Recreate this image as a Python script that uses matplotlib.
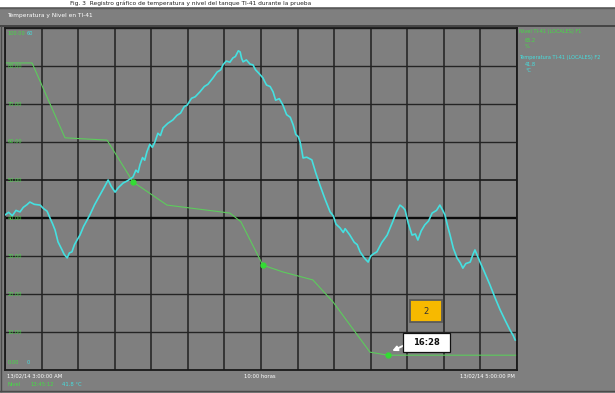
import matplotlib
matplotlib.use("Agg")
import matplotlib.pyplot as plt
from matplotlib.patches import Rectangle

# ---------------- data ----------------
temp_hours = [3.00, 3.10, 3.20, 3.30, 3.41, 3.50, 3.60, 3.68, 3.80, 3.96, 4.05, 4.15, 4.23, 4.30, 4.37,
              4.45, 4.55, 4.62, 4.70, 4.76, 4.83, 4.90, 4.97, 5.05, 5.15, 5.25, 5.32, 5.45, 5.60, 5.72,
              5.82, 5.90, 6.01, 6.10, 6.23, 6.35, 6.50, 6.58, 6.64, 6.69, 6.76, 6.82, 6.88, 6.96, 7.03,
              7.10, 7.18, 7.25, 7.32, 7.45, 7.59, 7.70, 7.80, 7.90, 7.98, 8.10, 8.20, 8.33, 8.45, 8.55,
              8.69, 8.80, 8.90, 8.96, 9.05, 9.15, 9.23, 9.30, 9.38, 9.43, 9.47, 9.51, 9.60, 9.70, 9.78,
              9.85, 9.93, 10.05, 10.15, 10.25, 10.33, 10.40, 10.50, 10.60, 10.70, 10.80, 10.88, 10.95,
              11.02, 11.07, 11.12, 11.15, 11.25, 11.39, 11.50, 11.61, 11.75, 11.89, 11.98, 12.05, 12.16,
              12.25, 12.30, 12.43, 12.55, 12.63, 12.71, 12.80, 12.87, 12.93, 13.00, 13.08, 13.17, 13.30,
              13.45, 13.60, 13.70, 13.80, 13.88, 13.94, 14.03, 14.13, 14.22, 14.29, 14.38, 14.48, 14.58,
              14.68, 14.80, 14.89, 14.96, 15.03, 15.10, 15.17, 15.26, 15.36, 15.45, 15.52, 15.60, 15.72,
              15.80, 15.85, 15.92, 15.99, 16.10, 16.26, 16.40, 16.54, 16.68, 16.81, 16.90, 16.95]
temp_values = [40.8, 41.5, 40.6, 42.0, 41.6, 42.8, 43.5, 44.2, 43.6, 43.4, 42.5, 41.8, 40.0, 38.5, 36.8,
               33.7, 31.8, 30.4, 29.5, 30.8, 31.1, 33.0, 34.2, 35.5, 37.8, 39.6, 40.8, 43.5, 46.1, 48.2,
               50.0, 48.4, 46.8, 48.0, 49.2, 49.8, 50.8, 52.6, 52.0, 54.0, 55.9, 55.2, 57.4, 59.4, 58.6,
               60.0, 62.3, 61.7, 63.7, 64.9, 65.8, 67.0, 67.6, 69.3, 69.7, 71.5, 71.9, 73.2, 74.6, 75.2,
               76.9, 78.4, 79.0, 80.3, 81.3, 81.0, 82.1, 82.5, 84.0, 83.7, 82.0, 81.1, 81.6, 80.5, 80.3,
               79.0, 78.2, 76.9, 75.0, 74.6, 73.2, 71.0, 71.4, 69.7, 67.2, 66.5, 64.5, 62.0,
               61.4, 60.0, 57.5, 55.8, 56.0, 55.3, 51.8, 48.7, 45.0, 41.6, 40.5, 38.4, 37.4,
               36.2, 37.2, 35.5, 33.6, 33.0, 31.1, 29.8, 29.0, 28.4, 30.0, 30.6, 31.1, 33.5,
               35.5, 39.0, 41.5, 43.4, 42.8, 42.1, 38.5, 35.5, 35.8, 34.2, 36.6, 38.2, 39.2,
               41.3, 42.0, 43.4, 42.2, 40.8, 38.0, 35.5, 32.0, 29.5, 28.2, 26.8, 28.0, 28.4,
               30.5, 31.6, 30.0, 28.4, 26.0, 22.4, 19.0, 15.8, 13.0, 10.5, 9.0, 7.9]

level_hours = [3.00, 3.74, 4.64, 5.79, 6.50, 7.43, 9.15, 9.45, 10.05, 10.60, 11.42, 11.97, 12.98, 13.47, 17.00]
level_values = [80.8, 80.8, 61.1, 60.5, 49.5, 43.4, 41.3, 39.0, 27.6, 25.8, 23.7, 17.9, 4.7, 3.9, 3.9]

marker_hours = [6.50, 10.05, 13.47]
marker_values = [49.5, 27.6, 3.9]

y_ticks = [0, 10, 20, 30, 40, 50, 60, 70, 80, 90]
y_labels = ["0.00", "10.00", "20.00", "30.00", "40.00", "50.00", "60.00", "70.00", "80.00", "90.00"]
x_ticks = list(range(3, 18))

title_text = "Temperatura y Nivel en TI-41"
x_left_label = "13/02/14 3:00:00 AM"
x_mid_label = "10:00 horas"
x_right_label = "13/02/14 5:00:00 PM"
legend_green = ["Nivel TI-41 (LOCALES) F1", "65.2", "%"]
legend_cyan = ["Temperatura TI-41 (LOCALES) F2", "41.8", "°C"]
annot_box1 = "2"
annot_box2 = "16:28"

# ---------------- figure ----------------
W, H = 615, 393
fig = plt.figure(figsize=(W / 100, H / 100), dpi=100)
fig.patch.set_facecolor("white")

def fx(px):
    return px / W

def fy(py):
    return 1 - py / H

GRAY = "#7f7f7f"
CYAN = "#45e0e0"
GREEN = "#5ccc5c"

# gray panel (behind axes)
fig.patches.append(Rectangle((0, 0), 1, fy(7), transform=fig.transFigure,
                             facecolor=GRAY, edgecolor="none", zorder=-5))
fig.add_artist(plt.Line2D([0, 1], [fy(26), fy(26)], transform=fig.transFigure,
                          color="#3a3a3a", lw=1.2, zorder=-4))
fig.add_artist(plt.Line2D([0, 1], [fy(7.5), fy(7.5)], transform=fig.transFigure,
                          color="#5a5a5a", lw=1.0, zorder=-4))
fig.add_artist(plt.Line2D([0, 1], [fy(391), fy(391)], transform=fig.transFigure,
                          color="#4a4a4a", lw=1.0, zorder=-4))
fig.add_artist(plt.Line2D([fx(1), fx(1)], [fy(26), fy(391)], transform=fig.transFigure,
                          color="#4a4a4a", lw=1.0, zorder=-4))

# caption strip at very top
fig.text(fx(70), fy(3.2), "Fig. 3  Registro gráfico de temperatura y nivel del tanque TI-41 durante la prueba",
         fontsize=4.2, color="#222222", va="center", ha="left")

fig.text(fx(7), fy(15), title_text, fontsize=4.2, color="white", va="center", ha="left")

ax = fig.add_axes([fx(5), fy(370), fx(517) - fx(5), fy(28) - fy(370)])
ax.set_zorder(1)
ax.set_facecolor(GRAY)
ax.set_xlim(3, 17)
ax.set_ylim(0, 90)
ax.set_xticks([])
ax.set_yticks([])
for s in ax.spines.values():
    s.set_color("#1a1a1a")
    s.set_linewidth(1.3)

for xt in x_ticks:
    ax.axvline(xt, color="#202020", lw=1.1, zorder=1)
for yt in y_ticks:
    if yt == 40:
        ax.axhline(yt, color="#0c0c0c", lw=1.7, zorder=1)
    elif yt == 50:
        ax.axhline(yt, color="#181818", lw=1.2, zorder=1)
    else:
        ax.axhline(yt, color="#242424", lw=1.0, zorder=1)

ax.plot(level_hours, level_values, color=GREEN, lw=0.8, zorder=2)
ax.plot(temp_hours, temp_values, color=CYAN, lw=1.2, zorder=3)
ax.plot(marker_hours, marker_values, "o", color="#33dd33", ms=3.5, zorder=4)

# y labels inside the plot
for yt, lab in zip(y_ticks, y_labels):
    if yt in (0, 90):
        continue
    ax.text(3.08, yt, lab, fontsize=3.6, color="#44dd44", va="center", ha="left", zorder=5)
ax.text(3.08, 88.5, "100.00", fontsize=3.6, color="#44dd44", va="center", ha="left", zorder=5)
ax.text(3.6, 88.5, "60", fontsize=3.6, color=CYAN, va="center", ha="left", zorder=5)
ax.text(3.08, 2.0, "0.00", fontsize=3.6, color="#44dd44", va="center", ha="left", zorder=5)
ax.text(3.6, 2.0, "0", fontsize=3.6, color=CYAN, va="center", ha="left", zorder=5)

# annotation: arrow + boxes
ax.annotate("", xy=(marker_hours[2] + 0.05, marker_values[2] + 0.8), xytext=(13.98, 6.8),
            arrowprops=dict(arrowstyle="-|>", color="white", lw=1.4, mutation_scale=7), zorder=6)
ax.add_patch(Rectangle((14.07, 12.6), 0.88, 5.8, facecolor="#f7b900", edgecolor="#5a5a5a",
                       lw=1.3, zorder=7))
ax.text(14.51, 15.5, annot_box1, fontsize=6, color="#333333", ha="center", va="center", zorder=8)
ax.add_patch(Rectangle((13.88, 4.7), 1.29, 5.0, facecolor="white", edgecolor="#111111",
                       lw=0.9, zorder=7))
ax.text(14.52, 7.2, annot_box2, fontsize=6, fontweight="bold", color="#111111", ha="center",
        va="center", zorder=8)

# x labels
fig.text(fx(7), fy(376), x_left_label, fontsize=3.8, color="white", va="center", ha="left")
fig.text(fx(260), fy(376), x_mid_label, fontsize=3.8, color="white", va="center", ha="center")
fig.text(fx(515), fy(376), x_right_label, fontsize=3.8, color="white", va="center", ha="right")
fig.text(fx(7), fy(385), "Nivel", fontsize=3.8, color="#44dd44", va="center", ha="left")
fig.text(fx(30), fy(385), "13:45:12", fontsize=3.8, color="#44dd44", va="center", ha="left")
fig.text(fx(62), fy(385), "41.8 °C", fontsize=3.8, color=CYAN, va="center", ha="left")

# legend on the right
fig.text(fx(519), fy(32), legend_green[0], fontsize=3.6, color="#44dd44", va="center", ha="left")
fig.text(fx(525), fy(40), legend_green[1], fontsize=3.6, color="#44dd44", va="center", ha="left")
fig.text(fx(525), fy(47), legend_green[2], fontsize=3.6, color="#44dd44", va="center", ha="left")
fig.text(fx(519), fy(57), legend_cyan[0], fontsize=3.6, color=CYAN, va="center", ha="left")
fig.text(fx(525), fy(64), legend_cyan[1], fontsize=3.6, color=CYAN, va="center", ha="left")
fig.text(fx(525), fy(71), legend_cyan[2], fontsize=3.6, color=CYAN, va="center", ha="left")

fig.savefig("out.png", dpi=100, facecolor=fig.get_facecolor())
